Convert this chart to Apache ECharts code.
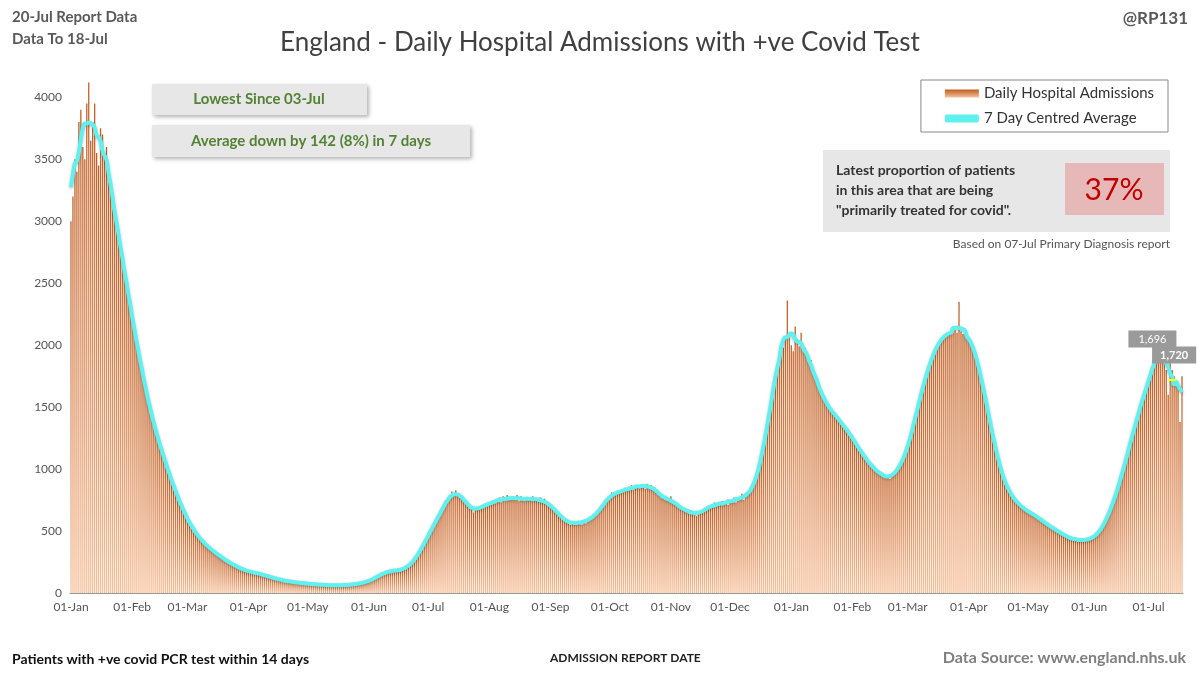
<!DOCTYPE html>
<html><head><meta charset="utf-8">
<script src="https://cdn.jsdelivr.net/npm/echarts@6/dist/echarts.min.js"></script>
<style>html,body{margin:0;padding:0;background:#fff}#c{width:1200px;height:675px}</style>
</head><body><div id="c"></div>
<script>
const startDate = [2021, 0, 1];
const admissions = [
3000,3200,3500,3400,3800,3900,3600, 3500,3950,4120,3650,3800,3950,3550, 3450,3750,3700,3550,3600,3350,3300,
3200,3050,3050,2850,2800,2700,2650, 2500,2420,2300,2250,2100,2080,1950, 1880,1780,1720,1640,1570,1480,1430,
1350,1320,1240,1210,1140,1110,1040, 1010,950,910,850,830,770,750, 700,670,620,610,560,550,500,
490,475,445,435,405,400,375, 372,348,342,328,322,298,292, 282,268,262,248,242,228,222,
216,204,202,188,186,178,176, 170,164,172,158,156,148,152, 146,138,136,128,126,118,120,
112,106,107,98,100,93,94, 90,86,88,82,84,78,80, 76,74,76,70,72,68,70,
68,65,66,63,65,62,63, 62,61,64,63,63,62,65, 65,65,69,69,73,73,77,
78,81,88,90,100,103,114, 118,130,136,150,156,167,168, 176,177,182,180,182,180,188,
188,198,203,217,226,248,262, 290,305,345,365,405,425,470, 485,530,545,590,600,650,665,
710,720,770,780,820,790,830, 790,800,770,770,730,730,680, 680,650,680,670,700,690,715,
700,710,710,740,730,745,740, 770,730,780,740,790,750,760, 780,750,790,740,780,750,760,
750,750,770,780,750,760,735, 770,730,760,720,730,690,700, 670,670,630,630,590,600,570,
580,550,580,550,560,570,580, 550,590,560,600,590,620,610, 640,640,680,680,730,730,770,
770,810,800,800,810,820,820, 830,830,840,840,870,830,860, 860,870,870,870,840,880,850,
870,840,850,810,810,770,780, 750,760,750,780,730,730,700, 710,680,690,660,670,640,670,
640,650,620,650,640,670,660, 690,680,710,700,730,700,710, 710,740,730,740,710,750,740,
770,730,760,760,800,750,790, 800,810,830,860,900,960,1020, 1100,1180,1270,1360,1450,1550,1650,
1750,1850,1950,2000,1980,2050,2360, 2100,2000,1950,2150,2050,1990,2100,
1950,1980,1900,1850,1880,1800,1760, 1700,1660,1620,1580,1550,1520,1500, 1480,1460,1440,1420,1400,1380,1360,
1340,1320,1300,1280,1250,1220,1200, 1180,1150,1120,1100,1080,1060,1040, 1020,1000,990,980,960,950,940,
940,930,920,940,960,980,1000, 1020,1050,1080,1120,1170,1230,1290, 1350,1420,1490,1560,1620,1680,1740,
1790,1840,1890,1930,1970,2000,2030, 2050,2070,2080,2100,2090,2110,2100, 2120,2100,2350,2110,2090,2100,2080,
2060,2040,2000,1960,1900,1830,1760, 1680,1600,1520,1440,1360,1280,1200, 1130,1060,1000,950,900,860,830,
800,780,760,740,720,700,690, 680,670,660,650,640,630,620, 610,600,590,575,560,550,540,
530,520,510,500,490,480,470, 460,450,445,440,435,430,430, 425,430,420,425,430,435,440,
445,455,470,490,510,540,570, 600,640,680,720,770,820,870, 920,980,1040,1100,1160,1220,1280,
1340,1400,1450,1500,1560,1620,1680, 1700,1750,1800,1850,1900,2000,1950, 2050,1850,1800,1600,1900,1800,1750,
1700,1650,1380,1750
];
const yTicks = [0,500,1000,1500,2000,2500,3000,3500,4000];
const markerValues = [1696, 1720];
const months = ['Jan','Feb','Mar','Apr','May','Jun','Jul','Aug','Sep','Oct','Nov','Dec'];

const cats = admissions.map((_, i) => {
  const d = new Date(Date.UTC(startDate[0], startDate[1], startDate[2] + i));
  return String(d.getUTCDate()).padStart(2,'0') + '-' + months[d.getUTCMonth()];
});
const avg = admissions.map((_, i) => {
  let s = 0, n = 0;
  for (let k = -3; k <= 3; k++) { const v = admissions[i + k]; if (v != null) { s += v; n++; } }
  return Math.round(s / n);
});
const N = admissions.length;

const chart = echarts.init(document.getElementById('c'));
const F = 'Lato, "Open Sans", sans-serif';
chart.setOption({
  animation: false,
  textStyle: { fontFamily: F },
  grid: { left: 70, right: 17, top: 75, bottom: 82 },
  xAxis: {
    type: 'category', data: cats,
    axisLine: { lineStyle: { color: '#999' } },
    axisTick: { interval: (i, v) => v.startsWith('01-'), lineStyle: { color: '#999' } },
    axisLabel: { interval: (i, v) => v.startsWith('01-'), color: '#555', fontSize: 12 },
    splitLine: { show: false }
  },
  yAxis: {
    type: 'value', min: 0, max: 4180, interval: 500,
    axisLabel: { color: '#555', fontSize: 12, showMaxLabel: false, formatter: v => String(v) },
    splitLine: { show: false },
    axisLine: { show: false }
  },
  legend: {
    right: 32, top: 80, orient: 'vertical', itemGap: 10,
    padding: [6, 14, 6, 24],
    borderColor: '#888', borderWidth: 1,
    textStyle: { fontSize: 15, color: '#333' },
    data: [{ name: 'Daily Hospital Admissions', icon: 'rect' }, { name: '7 Day Centred Average', icon: 'roundRect' }],
    itemWidth: 34, itemHeight: 8
  },
  series: [
    { name: 'Daily Hospital Admissions', type: 'bar', data: admissions, barCategoryGap: '35%',
      itemStyle: { color: new echarts.graphic.LinearGradient(0,0,0,1,[{offset:0,color:'#bf5d22'},{offset:1,color:'#f7c09a'}]) } },
    { name: '7 Day Centred Average', type: 'line', data: avg, smooth: true, symbol: 'none',
      lineStyle: { color: '#5ff0f0', width: 4, shadowColor: 'rgba(0,0,0,0.25)', shadowBlur: 3, shadowOffsetY: 1 },
      itemStyle: { color: '#5ff0f0' },
      markLine: { silent: true, symbol: 'none', data: [[{ coord: [N - 8, markerValues[1]] }, { coord: [N - 2, markerValues[1]] }]],
        lineStyle: { color: '#ffff00', type: 'dashed', width: 2 }, label: { show: false } },
      markPoint: { symbol: 'rect', symbolSize: [1, 1], data: [
        { coord: [N - 16, 1880], value: markerValues[0],
          label: { show: true, position: 'top', distance: 12, formatter: p => p.value.toLocaleString('en-US'), backgroundColor: '#9a9a9a', color: '#fff', padding: [3, 10], fontSize: 11 } },
        { coord: [N - 5, 1880], value: markerValues[1],
          label: { show: true, position: 'top', distance: -4, formatter: p => p.value.toLocaleString('en-US'), backgroundColor: '#9a9a9a', color: '#fff', padding: [3, 8], fontSize: 11, fontWeight: 'bold' } }
      ] } }
  ],
  graphic: [
    { type: 'text', left: 12, top: 6, style: { text: '20-Jul Report Data\nData To 18-Jul', font: 'bold 15px ' + F, fill: '#595959', lineHeight: 22 } },
    { type: 'text', right: 12, top: 10, style: { text: '@RP131', font: 'bold 17px ' + F, fill: '#595959' } },
    { type: 'text', left: 'center', top: 30, style: { text: 'England - Daily Hospital Admissions with +ve Covid Test', font: '26px ' + F, fill: '#404040' } },
    { type: 'rect', shape: { x: 152, y: 84, width: 215, height: 31 }, style: { fill: '#e7e7e7', shadowColor: 'rgba(0,0,0,0.3)', shadowBlur: 4, shadowOffsetX: 2, shadowOffsetY: 2 } },
    { type: 'text', x: 259, y: 99, style: { text: 'Lowest Since 03-Jul', font: 'bold 15px ' + F, fill: '#548235', align: 'center', verticalAlign: 'middle' } },
    { type: 'rect', shape: { x: 152, y: 125, width: 318, height: 32 }, style: { fill: '#e7e7e7', shadowColor: 'rgba(0,0,0,0.3)', shadowBlur: 4, shadowOffsetX: 2, shadowOffsetY: 2 } },
    { type: 'text', x: 311, y: 141, style: { text: 'Average down by 142 (8%) in 7 days', font: 'bold 15px ' + F, fill: '#548235', align: 'center', verticalAlign: 'middle' } },
    { type: 'rect', shape: { x: 823, y: 150, width: 347, height: 82 }, style: { fill: '#e7e7e7' } },
    { type: 'text', x: 836, y: 160, style: { text: 'Latest proportion of patients\nin this area that are being\n"primarily treated for covid".', font: 'bold 14px ' + F, fill: '#333', lineHeight: 20 } },
    { type: 'rect', shape: { x: 1065, y: 163, width: 99, height: 52 }, style: { fill: '#e6b9b8' } },
    { type: 'text', x: 1114, y: 190, style: { text: '37%', font: '30px ' + F, fill: '#c00000', align: 'center', verticalAlign: 'middle' } },
    { type: 'text', right: 30, top: 238, style: { text: 'Based on 07-Jul Primary Diagnosis report', font: '12px ' + F, fill: '#555' } },
    { type: 'text', left: 12, top: 652, style: { text: 'Patients with +ve covid PCR test within 14 days', font: 'bold 14px ' + F, fill: '#111' } },
    { type: 'text', left: 550, top: 652, style: { text: 'ADMISSION REPORT DATE', font: 'bold 12px ' + F, fill: '#222' } },
    { type: 'text', right: 14, top: 650, style: { text: 'Data Source: www.england.nhs.uk', font: 'bold 16px ' + F, fill: '#7f7f7f' } }
  ]
});
</script></body></html>
